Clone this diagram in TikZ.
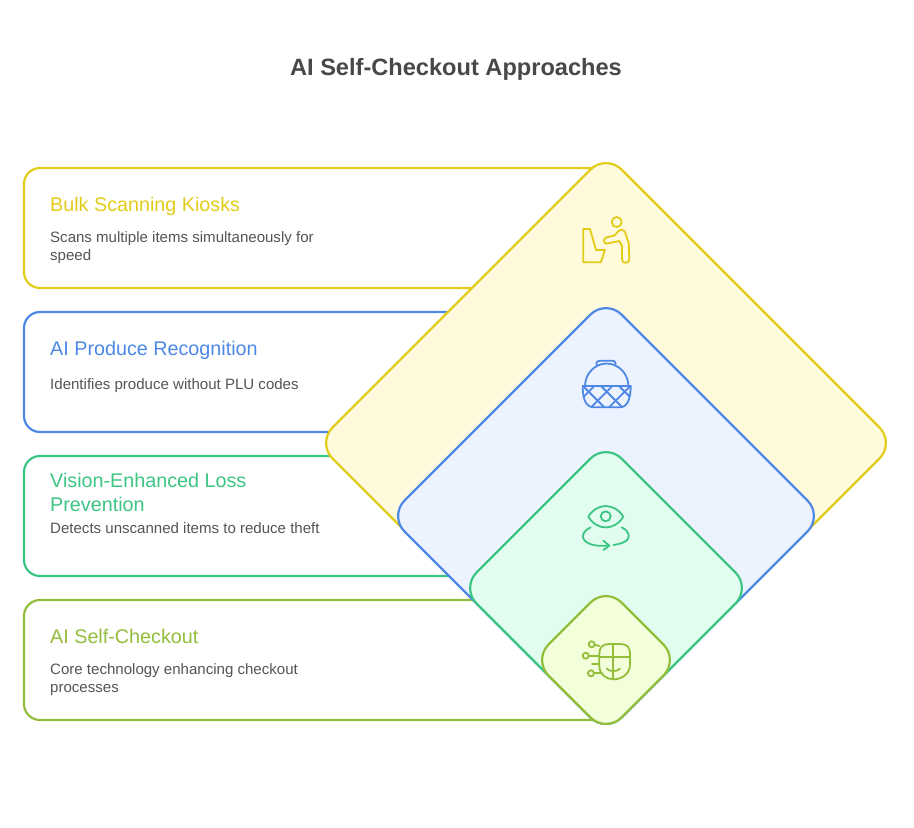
\documentclass[tikz,border=0pt]{standalone}
\usepackage{fontspec}
\setmainfont{Liberation Sans}
\definecolor{cy}{HTML}{E3CC19}\definecolor{fy}{HTML}{FFFADB}
\definecolor{cb}{HTML}{4E88E7}\definecolor{fb}{HTML}{EDF3FE}
\definecolor{cg}{HTML}{3CC583}\definecolor{fg}{HTML}{E2FDEF}
\definecolor{cl}{HTML}{93BE3A}\definecolor{fl}{HTML}{F3FEDA}
\definecolor{ttl}{HTML}{484848}\definecolor{bdy}{HTML}{555555}
\tikzset{
 cardbox/.style={draw=#1,line width=2.2pt},
 dia/.style 2 args={draw=#1,fill=#2,line width=2.2pt,rounded corners=22pt},
 head/.style={anchor=base west,inner sep=0pt,font=\fontsize{19.75}{22}\selectfont,text=#1},
 body/.style={anchor=base west,inner sep=0pt,font=\fontsize{15.05}{18}\selectfont,text=bdy},
 icon/.style={draw=#1,line width=1.8pt,line cap=round,line join=round},
}
\begin{document}
\begin{tikzpicture}[x=1pt,y=-1pt]
\useasboundingbox (0,0) rectangle (914,828);
\fill[white] (0,0) rectangle (914,828);
\node[anchor=base,inner sep=0pt,font=\bfseries\fontsize{23.6}{28}\selectfont,text=ttl] (title) at (456,75) {AI Self-Checkout Approaches};
% cards
\draw[cardbox=cy] (606,168) -- (40,168) arc[start angle=270,end angle=180,radius=16] -- (24,272) arc[start angle=180,end angle=90,radius=16] -- (606,288);
\draw[cardbox=cb] (606,312) -- (40,312) arc[start angle=270,end angle=180,radius=16] -- (24,416) arc[start angle=180,end angle=90,radius=16] -- (606,432);
\draw[cardbox=cg] (606,456) -- (40,456) arc[start angle=270,end angle=180,radius=16] -- (24,560) arc[start angle=180,end angle=90,radius=16] -- (606,576);
\draw[cardbox=cl] (606,600) -- (40,600) arc[start angle=270,end angle=180,radius=16] -- (24,704) arc[start angle=180,end angle=90,radius=16] -- (606,720);
\node[head=cy] (h1) at (50,211) {Bulk Scanning Kiosks};
\node[body] (b1a) at (50,242) {Scans multiple items simultaneously for};
\node[body] (b1b) at (50,260) {speed};
\node[head=cb] (h2) at (50,355) {AI Produce Recognition};
\node[body] (b2) at (50,389) {Identifies produce without PLU codes};
\node[head=cg] (h3a) at (50,487) {Vision-Enhanced Loss};
\node[head=cg] (h3b) at (50,511) {Prevention};
\node[body] (b3) at (50,533) {Detects unscanned items to reduce theft};
\node[head=cl] (h4) at (50,643) {AI Self-Checkout};
\node[body] (b4a) at (50,674) {Core technology enhancing checkout};
\node[body] (b4b) at (50,692) {processes};
% diamonds
\draw[dia={cy}{fy}] (606,154) -- (895,443) -- (606,732) -- (317,443) -- cycle;
\draw[dia={cb}{fb}] (606,299) -- (823,516) -- (606,733) -- (389,516) -- cycle;
\draw[dia={cg}{fg}] (606,443) -- (751,588) -- (606,733) -- (461,588) -- cycle;
\draw[dia={cl}{fl}] (606,587) -- (679,660) -- (606,733) -- (533,660) -- cycle;
% icon: kiosk
\draw[icon=cy] (583.3,229) -- (590,229) -- (596,250) -- (605,250) -- (600.7,262.3) -- (583.3,262.3) -- cycle;
\draw[icon=cy] (616.7,222) circle (5);
\draw[icon=cy] (606.7,237.3) -- (614.5,235.5) -- (618.5,231) .. controls (620,229.5) and (624,229.5) .. (625,232) -- (628.8,243.3) -- (629.3,259.5) .. controls (629.3,264) and (622,264) .. (622,259.5) -- (622,246) -- (619.3,241) -- (606.7,243.6) .. controls (603,243.8) and (603,238) .. (606.7,237.3) -- cycle;
% icon: basket
\draw[icon=cb] (585,386) .. controls (585,374) and (594.7,363.5) .. (606.7,363.5) .. controls (618.7,363.5) and (628.4,374) .. (628.4,386);
\draw[icon=cb] (597,365.5) .. controls (595,362) and (598,360.7) .. (600,360.7) -- (612,360.7) .. controls (615,360.7) and (616.5,363) .. (615,365.7);
\begin{scope}
\clip (582.7,386) .. controls (582.7,395) and (584,407.3) .. (594,407.3) -- (620,407.3) .. controls (629,407.3) and (630.7,395) .. (630.7,386) -- cycle;
\foreach \k in {-3,...,3}{
 \draw[icon=cb] ({601+\k*18},386) -- ({623+\k*18},408);
 \draw[icon=cb] ({612.4+\k*18},386) -- ({590.4+\k*18},408);
}
\end{scope}
\draw[icon=cb] (582.7,386) -- (630.7,386) .. controls (630.7,395) and (629,407.3) .. (620,407.3) -- (594,407.3) .. controls (584,407.3) and (582.7,395) .. (582.7,386) -- cycle;
% icon: eye
\draw[icon=cg] (588.3,516.7) .. controls (597,502.5) and (614.5,502.5) .. (623.3,516.7) .. controls (614.5,531) and (597,531) .. (588.3,516.7) -- cycle;
\draw[icon=cg] (605.7,516.3) circle (5);
\draw[icon=cg] (590.7,527.3) .. controls (581,532) and (580,540) .. (590,544) .. controls (595,546) and (602,546) .. (608.3,545.7);
\draw[icon=cg] (603.3,540.5) -- (609.3,545.7) -- (603.3,550);
\draw[icon=cg] (621.7,527.3) .. controls (631,532) and (631,540) .. (622,543) .. controls (619,544) and (616,544.6) .. (613.6,545);
% icon: AI head
\draw[icon=cl] (599.3,654) .. controls (599.3,647) and (603,644) .. (609,644) -- (620,644) .. controls (627,644) and (630,647) .. (630,654) -- (630,664) .. controls (630,674) and (622,679.3) .. (613.3,679.3) .. controls (606,679.3) and (599.3,674) .. (599.3,666) -- cycle;
\draw[icon=cl] (613.3,644) -- (613.3,679.3);
\draw[icon=cl] (599.3,656.7) -- (630,656.7);
\draw[icon=cl] (606.7,668.5) .. controls (609,672) and (618,672) .. (620,668.5);
\draw[icon=cl] (591.7,644.3) circle (3);
\draw[icon=cl] (585.7,655.7) circle (3);
\draw[icon=cl] (591,673.3) circle (3);
\draw[icon=cl] (594.7,644.8) -- (599.3,646);
\draw[icon=cl] (588.7,655.7) -- (599.3,655.7);
\draw[icon=cl] (592,664.3) -- (599.3,664.3);
\draw[icon=cl] (594,672.7) -- (601.5,672.7);
\end{tikzpicture}
\end{document}
